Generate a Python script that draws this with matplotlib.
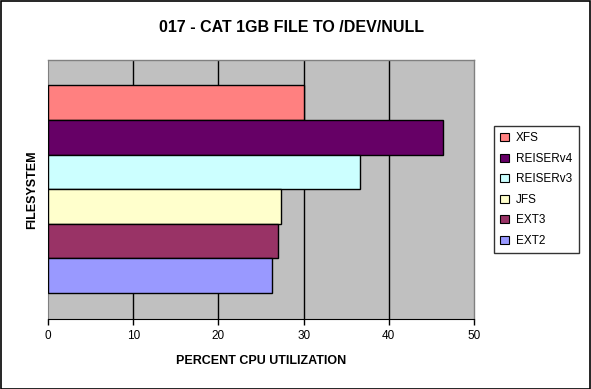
import matplotlib
matplotlib.use("Agg")
import matplotlib.pyplot as plt
from matplotlib.patches import Patch, Rectangle

plt.rcParams['font.family'] = ['Liberation Sans', 'DejaVu Sans']

filesystems = ["XFS", "REISERv4", "REISERv3", "JFS", "EXT3", "EXT2"]
cpu_values = [30.0, 46.4, 36.6, 27.4, 27.0, 26.3]
colors = ["#FF8080", "#660066", "#CCFFFF", "#FFFFCC", "#993366", "#9999FF"]
x_ticks = [0, 10, 20, 30, 40, 50]

W, H = 591, 389
fig = plt.figure(figsize=(W / 100, H / 100), dpi=100)
fig.patch.set_facecolor("white")
fig.patches.append(Rectangle((0.5 / W, 0.5 / H), 1 - 1.5 / W, 1 - 1.5 / H, transform=fig.transFigure,
                             fill=False, edgecolor="black", linewidth=1.2))

ax = fig.add_axes([48 / W, (H - 319) / H, 426 / W, 259.5 / H])
ax.set_facecolor("#C0C0C0")

n = len(filesystems)
positions = [n - 1 - i for i in range(n)]
ax.barh(positions, cpu_values, height=1.0, color=colors, edgecolor="black", linewidth=1.0, zorder=3)

ax.set_xlim(0, 50)
ax.set_ylim(-1.25, n - 1 + 1.25)
ax.set_xticks(x_ticks)
ax.set_xticklabels([str(t) for t in x_ticks], fontsize=8.5)
ax.set_yticks([])
for t in x_ticks[1:-1]:
    ax.axvline(t, color="black", linewidth=1.0, zorder=1)

for s in ["top", "right"]:
    ax.spines[s].set_color("#808080")
    ax.spines[s].set_linewidth(1.0)
ax.spines["bottom"].set_color("black")
ax.spines["left"].set_color("#808080")
ax.tick_params(axis="x", direction="out", length=4, width=1.0, pad=4)

ax.set_xlabel("PERCENT CPU UTILIZATION", fontsize=9, fontweight="bold", labelpad=9)
ax.set_ylabel("FILESYSTEM", fontsize=9, fontweight="bold", labelpad=7)

fig.text(0.5 - 4 / W, 1 - 27 / H, "017 - CAT 1GB FILE TO /DEV/NULL", ha="center", va="center",
         fontsize=11.5, fontweight="bold")

handles = [Patch(facecolor=c, edgecolor="black", linewidth=0.8, label=l) for c, l in zip(colors, filesystems)]
leg = fig.legend(handles=handles, loc="upper left", bbox_to_anchor=(494 / W, 1 - 126 / H),
                 fontsize=8.5, frameon=True, fancybox=False, edgecolor="black",
                 handlelength=0.7, handleheight=0.7, handletextpad=0.6, labelspacing=0.72,
                 borderpad=0.55, borderaxespad=0)
leg.get_frame().set_linewidth(1.0)

fig.savefig("out.png", dpi=100)
